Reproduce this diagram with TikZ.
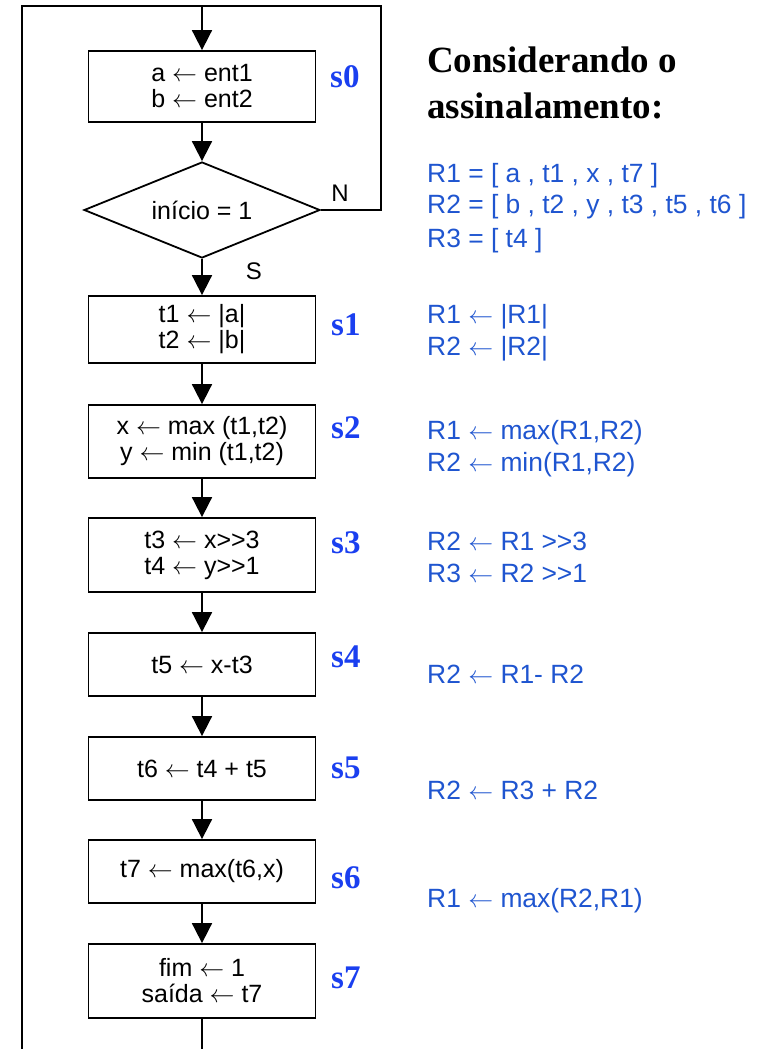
\documentclass[tikz,border=0pt]{standalone}
\usepackage{fontspec}
\setmainfont{Liberation Sans}
\newfontfamily\serifb{Liberation Serif}
\usetikzlibrary{arrows.meta,shapes.geometric}
\definecolor{regblue}{HTML}{1F55D0}
\definecolor{labblue}{HTML}{1A3FF0}
\newcommand{\lar}{\(\leftarrow\)}
\begin{document}
\begin{tikzpicture}[x=1pt,y=-1pt,
 box/.style={draw,line width=1.8pt,minimum width=227pt,inner sep=0pt,align=center,font=\fontsize{25}{26}\selectfont},
 arr/.style={line width=1.8pt,-{Triangle[width=20pt,length=20pt]}},
 ln/.style={line width=1.8pt},
 lab/.style={anchor=base west,text=labblue,font=\serifb\bfseries\fontsize{33}{33}\selectfont,inner sep=0pt},
 reg/.style={anchor=base west,text=regblue,font=\fontsize{26.4}{26.4}\selectfont,inner sep=0pt},
 ttl/.style={anchor=base west,font=\serifb\bfseries\fontsize{37}{37}\selectfont,inner sep=0pt},
 small/.style={font=\fontsize{24}{26}\selectfont,inner sep=0pt},
]
\useasboundingbox[fill=white] (0,0) rectangle (763,1049);

% flowchart boxes
\node[box,minimum height=71pt] (s0) at (202,86.5) {a \lar{} ent1\\b \lar{} ent2};
\node[draw,line width=1.8pt,shape=diamond,minimum width=236pt,minimum height=96pt,shape aspect=2.45,inner sep=0pt,font=\fontsize{25}{26}\selectfont] (d) at (202,210) {início = 1};
\node[box,minimum height=67pt] (s1) at (202,329.5) {t1 \lar{} |a|\\t2 \lar{} |b|};
\node[box,minimum height=73pt] (s2) at (202,441.5) {x \lar{} max (t1,t2)\\y \lar{} min (t1,t2)};
\node[box,minimum height=74pt] (s3) at (202,555) {t3 \lar{} x>{}>3\\t4 \lar{} y>{}>1};
\node[box,minimum height=63pt] (s4) at (202,664.5) {t5 \lar{} x-t3};
\node[box,minimum height=63pt] (s5) at (202,768.5) {t6 \lar{} t4 + t5};
\node[box,minimum height=63pt] (s6) at (202,871.5) {t7 \lar{} max(t6,x)};
\node[box,minimum height=74pt] (s7) at (202,981) {fim \lar{} 1\\saída \lar{} t7};

% loop coordinates
\coordinate (tl) at (22,6);
\coordinate (tr) at (381,6);
\coordinate (tm) at (202,6);
\coordinate (bl) at (22,1049);

\draw[ln] (d.east) -- (d.east -| tr) -- (tr) -- (tl) -- (bl);
\draw[arr] (tm) -- (s0.north);
\draw[arr] (s0.south) -- (d.north);
\draw[arr] (d.south) -- (s1.north);
\draw[arr] (s1.south) -- (s2.north);
\draw[arr] (s2.south) -- (s3.north);
\draw[arr] (s3.south) -- (s4.north);
\draw[arr] (s4.south) -- (s5.north);
\draw[arr] (s5.south) -- (s6.north);
\draw[arr] (s6.south) -- (s7.north);
\draw[ln] (s7.south) -- (s7.south |- bl);

\node[small] (nlab) at (340,193) {N};
\node[small] (slab) at (254,271) {S};

% state labels
\node[lab] (l0) at (330,87) {s0};
\node[lab] (l1) at (331,335) {s1};
\node[lab] (l2) at (331,438) {s2};
\node[lab] (l3) at (331,553) {s3};
\node[lab] (l4) at (331,667) {s4};
\node[lab] (l5) at (331,778) {s5};
\node[lab] (l6) at (331,888) {s6};
\node[lab] (l7) at (331,988) {s7};

% title
\node[ttl] (t1) at (427,73) {Considerando o};
\node[ttl] (t2) at (427,118) {assinalamento:};

% register text
\node[reg] (r1) at (427,182) {R1 = [ a , t1 , x , t7 ]};
\node[reg] (r2) at (427,213) {R2 = [ b , t2 , y , t3 , t5 , t6 ]};
\node[reg] (r3) at (427,247) {R3 = [ t4 ]};
\node[reg] (a1) at (427,323) {R1 \lar{} |R1|};
\node[reg] (a2) at (427,355) {R2 \lar{} |R2|};
\node[reg] (b1) at (427,439) {R1 \lar{} max(R1,R2)};
\node[reg] (b2) at (427,471) {R2 \lar{} min(R1,R2)};
\node[reg] (c1) at (427,550) {R2 \lar{} R1 >{}>3};
\node[reg] (c2) at (427,582) {R3 \lar{} R2 >{}>1};
\node[reg] (e1) at (427,683) {R2 \lar{} R1- R2};
\node[reg] (f1) at (427,799) {R2 \lar{} R3 + R2};
\node[reg] (g1) at (427,907) {R1 \lar{} max(R2,R1)};
\end{tikzpicture}
\end{document}
